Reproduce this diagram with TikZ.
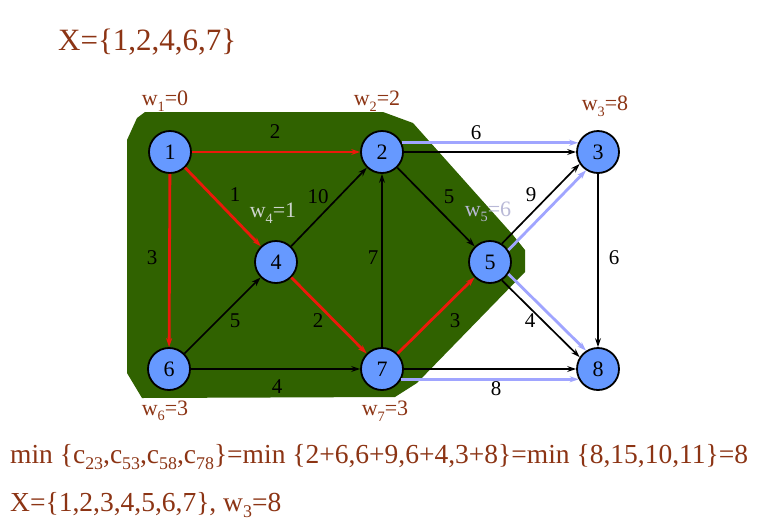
\documentclass[tikz,border=0pt]{standalone}
\usepackage{fontspec}
\setmainfont{Liberation Serif}
\usetikzlibrary{arrows.meta}
\definecolor{brown}{RGB}{140,52,20}
\definecolor{hullgreen}{RGB}{48,98,0}
\definecolor{nodeblue}{RGB}{102,153,255}
\definecolor{lav}{RGB}{160,165,255}
\definecolor{redline}{RGB}{235,25,10}
\newcommand{\sbx}[1]{\raisebox{-0.25em}{\scalebox{0.65}{#1}}}
\tikzset{
  vtx/.style={circle,draw=black,line width=1.8pt,fill=nodeblue,minimum size=42pt,inner sep=0pt,font=\fontsize{22}{22}\selectfont},
  blk/.style={draw=black,line width=1.7pt,-{Stealth[length=9pt,width=6pt]}},
  redl/.style={draw=redline,line width=2.8pt,-{Stealth[length=9pt,width=6pt]}},
  blu/.style={draw=lav,line width=2.8pt,-{Stealth[length=9pt,width=6pt]}},
  elab/.style={font=\fontsize{21}{21}\selectfont,text=black},
  wlab/.style={font=\fontsize{22}{22}\selectfont,text=brown},
  bigtext/.style={font=\fontsize{27.5}{27.5}\selectfont,text=brown,anchor=west,inner sep=0pt}
}
\begin{document}
\begin{tikzpicture}[x=1pt,y=-1pt]
\useasboundingbox[fill=white] (0,0) rectangle (769,523);
% hull
\fill[hullgreen] (145,112) -- (383,112) -- (413,123) -- (513,235) -- (525,250) -- (525,272) -- (417,383) -- (395,397) -- (142,398) -- (127,373) -- (127,140) -- (137,118) -- cycle;
% nodes
\node[vtx] (n1) at (170,152) {1};
\node[vtx] (n2) at (382,152) {2};
\node[vtx] (n3) at (598,152) {3};
\node[vtx] (n4) at (276,262) {4};
\node[vtx] (n5) at (490,262) {5};
\node[vtx] (n6) at (169,369) {6};
\node[vtx] (n7) at (382,369) {7};
\node[vtx] (n8) at (598,369) {8};
% edges
\draw[redl] (n1) -- (n2);
\draw[redl] (n1) -- (n4);
\draw[redl] (n1) -- (n6);
\draw[blk] (n4) -- (n2);
\draw[blk] (n6) -- (n4);
\draw[redl] (n4) -- (n7);
\draw[blk] (n7) -- (n2);
\draw[blk] (n6) -- (n7);
\draw[blk] (n2) -- (n5);
\draw[redl] (n7) -- (n5);
\draw[blu] (n2.25) -- (n3.155);
\draw[blk] (n2) -- (n3);
\draw[blk] (n5.57) -- (n3.213);
\draw[blu] (n5.33) -- (n3.237);
\draw[blk] (n5.-57) -- (n8.147);
\draw[blu] (n5.-33) -- (n8.123);
\draw[blk] (n7) -- (n8);
\draw[blu] (n7.-28) -- (n8.208);
\draw[blk] (n3) -- (n8);
% edge labels
\node[elab] (l12) at (275,132) {2};
\node[elab] (l14) at (235,195) {1};
\node[elab] (l16) at (152,258) {3};
\node[elab] (l42) at (318,197) {10};
\node[elab] (l64) at (235,321) {5};
\node[elab] (l47) at (318,321) {2};
\node[elab] (l72) at (373,258) {7};
\node[elab] (l67) at (277,387) {4};
\node[elab] (l25) at (449,197) {5};
\node[elab] (l75) at (455,321) {3};
\node[elab] (l23) at (476,133) {6};
\node[elab] (l53) at (531,195) {9};
\node[elab] (l58) at (530,321) {4};
\node[elab] (l78) at (496,389) {8};
\node[elab] (l38) at (614,258) {6};
% weights
\node[wlab] (w1) at (165,101) {w\sbx{1}=0};
\node[wlab] (w2) at (377,101) {w\sbx{2}=2};
\node[wlab] (w3) at (605,106) {w\sbx{3}=8};
\node[wlab,text={rgb,255:red,205;green,212;blue,205}] (w4) at (273,213) {w\sbx{4}=1};
\node[wlab,text={rgb,255:red,185;green,185;blue,215}] (w5) at (488,212) {w\sbx{5}=6};
\node[wlab] (w6) at (165,411) {w\sbx{6}=3};
\node[wlab] (w7) at (385,411) {w\sbx{7}=3};
% texts
\node[bigtext,font=\fontsize{31}{31}\selectfont] (title) at (58,42) {X=\{1,2,4,6,7\}};
\node[bigtext] (line1) at (10,457) {min \{c\sbx{23},c\sbx{53},c\sbx{58},c\sbx{78}\}=min \{2+6,6+9,6+4,3+8\}=min \{8,15,10,11\}=8};
\node[bigtext] (line2) at (10,505) {X=\{1,2,3,4,5,6,7\}, w\sbx{3}=8};
\end{tikzpicture}
\end{document}
